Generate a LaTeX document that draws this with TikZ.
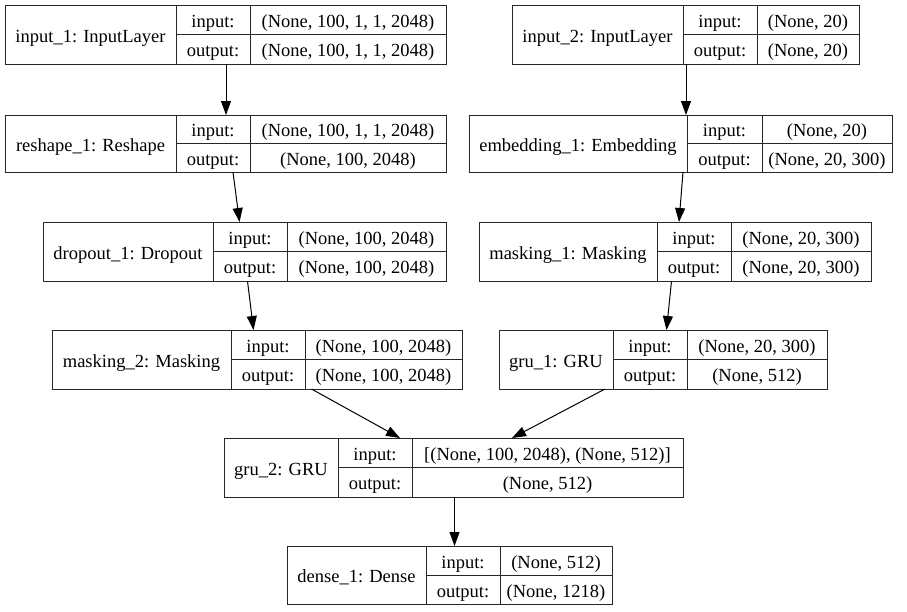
\documentclass[tikz,border=0pt]{standalone}
\usepackage{fontspec}
\setmainfont{Liberation Serif}
\usetikzlibrary{arrows.meta}

\makeatletter
% one table cell: name, x0, x1, y0, y1, text  (pixel units, y pointing down)
\newcommand\cellnode[6]{%
  \pgfmathsetmacro\lyW{#3-#2}%
  \pgfmathsetmacro\lyH{#5-#4}%
  \pgfmathsetmacro\lyX{(#2+#3)/2}%
  \pgfmathsetmacro\lyY{(#4+#5)/2}%
  \node[cell, minimum width=\lyW pt, minimum height=\lyH pt] (#1) at (\lyX,\lyY) {#6};}
\def\ly@parse#1,#2,#3,#4,#5,#6\@nil{%
  \def\lyA{#1}\def\lyB{#2}\def\lyC{#3}\def\lyD{#4}\def\lyT{#5}\def\lyU{#6}}
% a layer record: name, {left,div1,div2,right,top,bottom}, title, input shape, output shape
\newcommand\layer[5]{%
  \ly@parse#2\@nil
  \pgfmathsetmacro\lyM{(\lyT+\lyU)/2}%
  \cellnode{#1}{\lyA}{\lyD}{\lyT}{\lyU}{}%
  \cellnode{#1-title}{\lyA}{\lyB}{\lyT}{\lyU}{#3}%
  \cellnode{#1-inlabel}{\lyB}{\lyC}{\lyT}{\lyM}{input:}%
  \cellnode{#1-outlabel}{\lyB}{\lyC}{\lyM}{\lyU}{output:}%
  \cellnode{#1-in}{\lyC}{\lyD}{\lyT}{\lyM}{#4}%
  \cellnode{#1-out}{\lyC}{\lyD}{\lyM}{\lyU}{#5}}
\makeatother

\begin{document}
\begin{tikzpicture}[x=1pt, y=-1pt,
  cell/.style={draw=black!85, line width=1pt, inner sep=0pt, outer sep=0pt,
    rectangle, font=\fontsize{18.5}{22}\selectfont,
    text height=15pt, text depth=0pt, align=center},
  edge/.style={draw=black, line width=1pt,
    -{Triangle[length=14pt, width=10pt]}}]
\useasboundingbox (0,0) rectangle (907,611);

\layer{input1}{5,176,250,446,5,64}{input\_1: InputLayer}{(None, 100, 1, 1, 2048)}{(None, 100, 1, 1, 2048)}
\layer{input2}{512,683,757,859,5,64}{input\_2: InputLayer}{(None, 20)}{(None, 20)}
\layer{reshape1}{5,176,250,446,115,172}{reshape\_1: Reshape}{(None, 100, 1, 1, 2048)}{(None, 100, 2048)}
\layer{embedding1}{469,687,762,892,115,172}{embedding\_1: Embedding}{(None, 20)}{(None, 20, 300)}
\layer{dropout1}{43,213,287,446,222,281}{dropout\_1: Dropout}{(None, 100, 2048)}{(None, 100, 2048)}
\layer{masking1}{479,657,731,871,222,281}{masking\_1: Masking}{(None, 20, 300)}{(None, 20, 300)}
\layer{masking2}{52,231,305,462,330,389}{masking\_2: Masking}{(None, 100, 2048)}{(None, 100, 2048)}
\layer{gru1}{499,613,687,827,330,389}{gru\_1: GRU}{(None, 20, 300)}{(None, 512)}
\layer{gru2}{224,338,412,683,438,497}{gru\_2: GRU}{[(None, 100, 2048), (None, 512)]}{(None, 512)}
\layer{dense1}{287,426,500,612,546,604}{dense\_1: Dense}{(None, 512)}{(None, 1218)}

% data flow between layers
\draw[edge] (226,0 |- input1.south) -- (226,0 |- reshape1.north);
\draw[edge] (233,0 |- reshape1.south) -- (239.5,0 |- dropout1.north);
\draw[edge] (247.5,0 |- dropout1.south) -- (253.5,0 |- masking2.north);
\draw[edge] (311.5,0 |- masking2.south) -- (400,0 |- gru2.north);
\draw[edge] (686,0 |- input2.south) -- (686,0 |- embedding1.north);
\draw[edge] (683,0 |- embedding1.south) -- (679,0 |- masking1.north);
\draw[edge] (671.5,0 |- masking1.south) -- (666.5,0 |- gru1.north);
\draw[edge] (605,0 |- gru1.south) -- (512,0 |- gru2.north);
\draw[edge] (454.5,0 |- gru2.south) -- (454.5,0 |- dense1.north);
\end{tikzpicture}
\end{document}
